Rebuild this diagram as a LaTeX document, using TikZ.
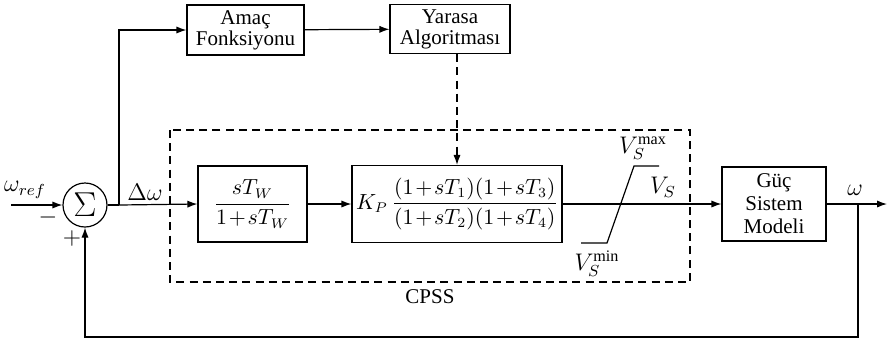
\documentclass[tikz,border=0pt]{standalone}
\usepackage{amsmath}
\usepackage{fontspec}
\setmainfont{Liberation Serif}
\usetikzlibrary{arrows.meta,calc}
\newcommand{\tightmath}{\medmuskip=1.5mu plus 1mu minus 1mu\relax}

\begin{document}
\begin{tikzpicture}[x=0.5pt,y=-0.5pt,line width=0.6pt,
    >={Latex[length=5pt,width=3.6pt]},
    blk/.style={draw,align=center,inner sep=0pt,font=\fontsize{10.5}{10.5}\selectfont},
    mathblk/.style={draw,inner sep=0pt,font=\fontsize{10.5}{11}\selectfont},
    sumnode/.style={draw,circle,minimum size=22pt,inner sep=0pt},
    dsh/.style={dash pattern=on 4pt off 2.6pt},
    lbl/.style={inner sep=0pt,font=\fontsize{11.5}{12}\selectfont}]
\useasboundingbox (0,0) rectangle (887,339);
% blocks
\node[blk,minimum width=58.5pt,minimum height=25pt] (amac) at (245.5,30) {Amaç\\Fonksiyonu};
\node[blk,minimum width=60pt,minimum height=24.5pt] (yarasa) at (450,29) {Yarasa\\Algoritması};
\node[sumnode] (sum) at (85,205) {\fontsize{17}{17}\selectfont$\Sigma$};
\node[mathblk,minimum width=54.5pt,minimum height=38pt] (hpf) at (252.5,204) {\tightmath$\dfrac{sT_W}{1+sT_W}$};
\node[mathblk,minimum width=105pt,minimum height=38.5pt] (lead) at (457,204) {\tightmath$K_P\,\dfrac{(1+sT_1)(1+sT_3)}{(1+sT_2)(1+sT_4)}$};
\node[blk,minimum width=52pt,minimum height=37pt,font=\fontsize{10.5}{11.5}\selectfont] (guc) at (774,204) {Güç\\Sistem\\Modeli};
% points
\coordinate (in) at (11,205);
\coordinate (br1) at (119,205);
\coordinate (br2) at (858,204);
\coordinate (out) at (887,204);
\coordinate (fbl) at (85,337);
% CPSS frame and limiter
\draw[dsh] (170,130) rectangle (690,282);
\node[inner sep=0pt,font=\fontsize{10.5}{11}\selectfont] (cpss) at (430,297) {CPSS};
\draw (581,243) -- (607,243) -- (634,166) -- (659,166);
% connections
\draw[->] (in) -- (sum.west);
\draw (sum.east) -- (br1);
\draw[->] (br1) -- (hpf.west);
\draw[->] (br1) |- (amac.west);
\draw[->] (amac) -- (yarasa);
\draw[->,dsh] (lead.north |- yarasa.south) -- (lead.north);
\draw[->] (hpf) -- (lead);
\draw[->] (lead.east) -- (guc.west);
\draw[->] (guc.east) -- (out);
\draw[->] (br2) |- (fbl) -- (sum.south);
% labels
\node[lbl] (wref) at (25,190) {$\omega_{ref}$};
\node[lbl] (minus) at (48,217) {$-$};
\node[lbl] (plus) at (72,238) {$+$};
\node[lbl] (dw) at (145,192) {$\Delta\omega$};
\node[lbl] (vmax) at (643,148) {$V_S^{\mathrm{max}}$};
\node[lbl] (vmin) at (597,264) {$V_S^{\mathrm{min}}$};
\node[lbl] (vs) at (663,187) {$V_S$};
\node[lbl] (w) at (855,190) {$\omega$};
\end{tikzpicture}
\end{document}
